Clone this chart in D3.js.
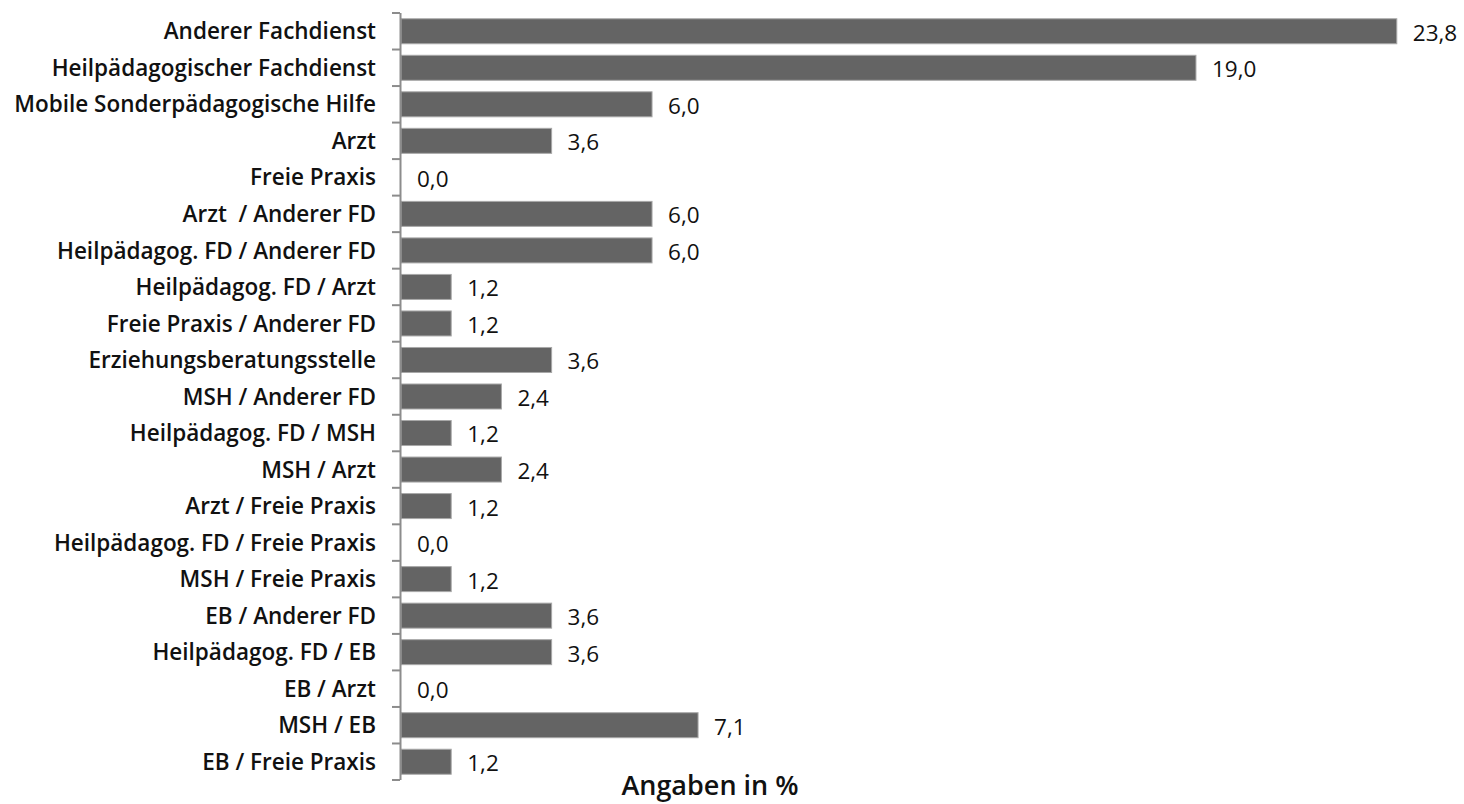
<!DOCTYPE html>
<html>
<head>
<meta charset="utf-8">
<script src="https://cdn.jsdelivr.net/npm/d3@7"></script>
<style>
  body { margin: 0; background: #fff; }
  text { font-family: 'Open Sans', sans-serif; fill: #111; }
</style>
</head>
<body>
<script>
// horizontal bar chart

let w = 1464;
let h = 804;

let categories = [
    'Anderer Fachdienst',
    'Heilpädagogischer Fachdienst',
    'Mobile Sonderpädagogische Hilfe',
    'Arzt',
    'Freie Praxis',
    'Arzt  / Anderer FD',
    'Heilpädagog. FD / Anderer FD',
    'Heilpädagog. FD / Arzt',
    'Freie Praxis / Anderer FD',
    'Erziehungsberatungsstelle',
    'MSH / Anderer FD',
    'Heilpädagog. FD / MSH',
    'MSH / Arzt',
    'Arzt / Freie Praxis',
    'Heilpädagog. FD / Freie Praxis',
    'MSH / Freie Praxis',
    'EB / Anderer FD',
    'Heilpädagog. FD / EB',
    'EB / Arzt',
    'MSH / EB',
    'EB / Freie Praxis'
];

let values = [23.8, 19.0, 6.0, 3.6, 0.0, 6.0, 6.0, 1.2, 1.2, 3.6, 2.4, 1.2, 2.4, 1.2, 0.0, 1.2, 3.6, 3.6, 0.0, 7.1, 1.2];

let axisTitle = 'Angaben in %';

let data = categories.map((c, i) => ({ cat: c, val: values[i] }));

let svg = d3.select('body').append('svg').attr('width', w).attr('height', h);

let x = d3.scaleLinear().domain([0, 25]).range([401, 1447]);
let y = d3.scaleBand().domain(categories).range([13, 780]).padding(0);

let barH = 25;

// bars
svg.selectAll('rect.bar')
    .data(data)
    .enter()
    .append('rect')
    .attr('class', 'bar')
    .attr('x', x(0))
    .attr('y', d => y(d.cat) + (y.bandwidth() - barH) / 2)
    .attr('width', d => x(d.val) - x(0))
    .attr('height', barH)
    .attr('fill', '#646464')
    .attr('stroke', d => d.val > 0 ? '#a8a8a8' : 'none')
    .attr('stroke-width', 1);

// axis line + ticks at band boundaries
let bounds = categories.map(c => y(c)).concat([y.range()[1]]);

svg.append('line')
    .attr('x1', x(0) - 0.5).attr('x2', x(0) - 0.5)
    .attr('y1', bounds[0]).attr('y2', bounds[bounds.length - 1])
    .attr('stroke', '#8c8c8c').attr('stroke-width', 2);

svg.selectAll('line.tick')
    .data(bounds)
    .enter()
    .append('line')
    .attr('class', 'tick')
    .attr('x1', x(0) - 9).attr('x2', x(0) - 1)
    .attr('y1', d => d).attr('y2', d => d)
    .attr('stroke', '#8c8c8c').attr('stroke-width', 2);

// category labels
svg.selectAll('text.cat')
    .data(data)
    .enter()
    .append('text')
    .attr('class', 'cat')
    .text(d => d.cat)
    .attr('x', 376)
    .attr('y', d => y(d.cat) + y.bandwidth() / 2)
    .attr('dy', '0.36em')
    .attr('text-anchor', 'end')
    .attr('font-size', '22.5px')
    .attr('font-weight', 600)
    .style('white-space', 'pre');

// value labels
svg.selectAll('text.val')
    .data(data)
    .enter()
    .append('text')
    .attr('class', 'val')
    .text(d => d.val.toFixed(1).replace('.', ','))
    .attr('x', d => x(d.val) + 16)
    .attr('y', d => y(d.cat) + y.bandwidth() / 2)
    .attr('dy', '0.42em')
    .attr('font-size', '22.5px')
    .attr('font-weight', 500);

svg.append('text')
    .text(axisTitle)
    .attr('x', 710)
    .attr('y', 795)
    .attr('text-anchor', 'middle')
    .attr('font-size', '27px')
    .attr('font-weight', 600);
</script>
</body>
</html>
